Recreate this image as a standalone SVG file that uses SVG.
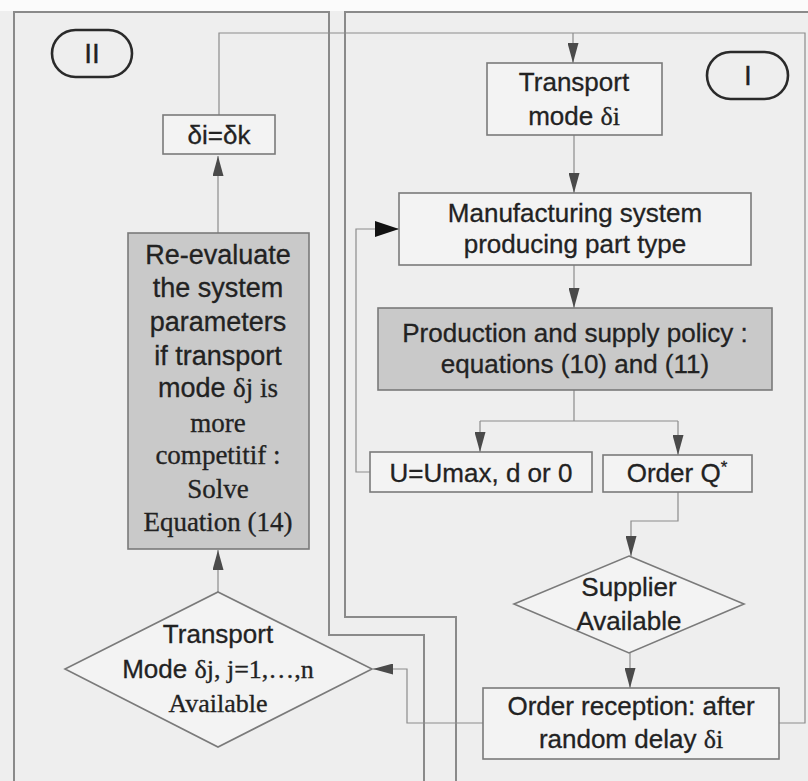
<svg xmlns="http://www.w3.org/2000/svg" width="808" height="781" viewBox="0 0 808 781">
  <style>
    .frame { fill: none; stroke: #8a8a8a; stroke-width: 2; }
    .box { fill: #f3f3f3; stroke: #7a7a7a; stroke-width: 1.6; }
    .shade { fill: #c9c9c9; stroke: #7a7a7a; stroke-width: 1.6; }
    .oval { fill: none; stroke: #2a2a2a; stroke-width: 2.6; }
    .link { fill: none; stroke: #8c8c8c; stroke-width: 1.2; }
    .flow { marker-end: url(#tri); }
    text { font-family: "Liberation Sans", Arial, sans-serif; font-size: 26px; fill: #222222; stroke: #222222; stroke-width: 0.3; text-anchor: middle; }
    .serif { font-family: "Liberation Serif", "Times New Roman", serif; }
    .big { font-size: 27px; }
  </style>
  <defs>
    <marker id="tri" viewBox="0 0 20 11" refX="20" refY="5.5" markerWidth="20" markerHeight="11" markerUnits="userSpaceOnUse" orient="auto">
      <path d="M0,0 L20,5.5 L0,11 Z" fill="#4a4a4a"/>
    </marker>
    <marker id="triDark" viewBox="0 0 24 16" refX="24" refY="8" markerWidth="24" markerHeight="16" markerUnits="userSpaceOnUse" orient="auto">
      <path d="M0,0 L24,8 L0,16 Z" fill="#111111"/>
    </marker>
  </defs>

  <!-- background -->
  <rect x="0" y="0" width="808" height="781" fill="#eeeeee"/>
  <rect x="0" y="0" width="808" height="11" fill="#fbfbfb"/>

  <!-- panel outlines -->
  <g id="panels">
    <path class="frame" d="M14,781 V12 H329 V635 H424 V781"/>
    <path class="frame" d="M808,12 H345 V617 H456 V781"/>
  </g>

  <!-- connectors -->
  <g id="connectors">
    <path class="link" d="M219,115 V33 H805 V723 H779"/>
    <path class="link flow" d="M573,33 V63"/>
    <path class="link flow" d="M483,723 H407 V669 H373"/>
    <path class="link flow" d="M218,592 V550"/>
    <path class="link flow" d="M218,233 V156"/>
    <path class="link flow" d="M574,135 V193"/>
    <path class="link flow" d="M574,265 V308"/>
    <path class="link" d="M574,390 V421 M480,421 H678"/>
    <path class="link flow" d="M480,421 V452"/>
    <path class="link flow" d="M678,421 V455"/>
    <path class="link" d="M370,472 H356 V229 H380" />
    <path class="link" d="M380,229 H399" marker-end="url(#triDark)"/>
    <path class="link flow" d="M678,492 V521 H631 V556"/>
    <path class="link flow" d="M630,653 V688"/>
  </g>

  <!-- panel labels -->
  <g id="label-II">
    <rect class="oval" x="52" y="30" width="80" height="47" rx="23.5"/>
    <text x="92" y="63" style="font-size:28px">II</text>
  </g>
  <g id="label-I">
    <rect class="oval" x="707" y="52" width="81" height="47" rx="23.5"/>
    <text x="748" y="85" style="font-size:28px">I</text>
  </g>

  <!-- panel II nodes -->
  <g id="assign-mode">
    <rect class="box" x="163" y="115" width="112" height="39"/>
    <text x="219" y="144">δi=δk</text>
  </g>
  <g id="re-evaluate">
    <rect class="shade" x="128" y="233" width="181" height="316"/>
    <text class="big" x="218" y="264">Re-evaluate</text>
    <text class="big" x="218" y="297">the system</text>
    <text class="big" x="218" y="331">parameters</text>
    <text class="big" x="218" y="365">if transport</text>
    <text class="big" x="218" y="397">mode <tspan class="serif">δj is</tspan></text>
    <text class="big serif" x="218" y="432">more</text>
    <text class="big serif" x="218" y="464">competitif :</text>
    <text class="big serif" x="218" y="498">Solve</text>
    <text class="big serif" x="218" y="531">Equation (14)</text>
  </g>
  <g id="mode-available">
    <polygon class="box" points="218,592 372,669 218,747 65,669"/>
    <text x="218" y="643">Transport</text>
    <text x="218" y="678">Mode <tspan class="serif">δj, j=1,…,n</tspan></text>
    <text class="serif" x="218" y="712">Available</text>
  </g>

  <!-- panel I nodes -->
  <g id="transport-mode">
    <rect class="box" x="487" y="63" width="175" height="72"/>
    <text x="574" y="91">Transport</text>
    <text x="574" y="125">mode <tspan class="serif">δi</tspan></text>
  </g>
  <g id="manufacturing">
    <rect class="box" x="399" y="193" width="352" height="72"/>
    <text x="575" y="222">Manufacturing system</text>
    <text x="575" y="253">producing part type</text>
  </g>
  <g id="policy">
    <rect class="shade" x="378" y="308" width="394" height="82"/>
    <text x="575" y="342">Production and supply policy :</text>
    <text x="575" y="373">equations (10) and (11)</text>
  </g>
  <g id="rate">
    <rect class="box" x="370" y="452" width="222" height="40"/>
    <text x="481" y="482">U=Umax, d or 0</text>
  </g>
  <g id="order">
    <rect class="box" x="603" y="455" width="149" height="37"/>
    <text x="677" y="482">Order Q<tspan dy="-9" style="font-size:17px">*</tspan></text>
  </g>
  <g id="supplier">
    <polygon class="box" points="629,556 744,604 629,653 514,604"/>
    <text x="629" y="596">Supplier</text>
    <text x="629" y="630">Available</text>
  </g>
  <g id="reception">
    <rect class="box" x="483" y="688" width="296" height="71"/>
    <text x="631" y="715">Order reception: after</text>
    <text x="631" y="748">random delay <tspan class="serif">δi</tspan></text>
  </g>
</svg>
